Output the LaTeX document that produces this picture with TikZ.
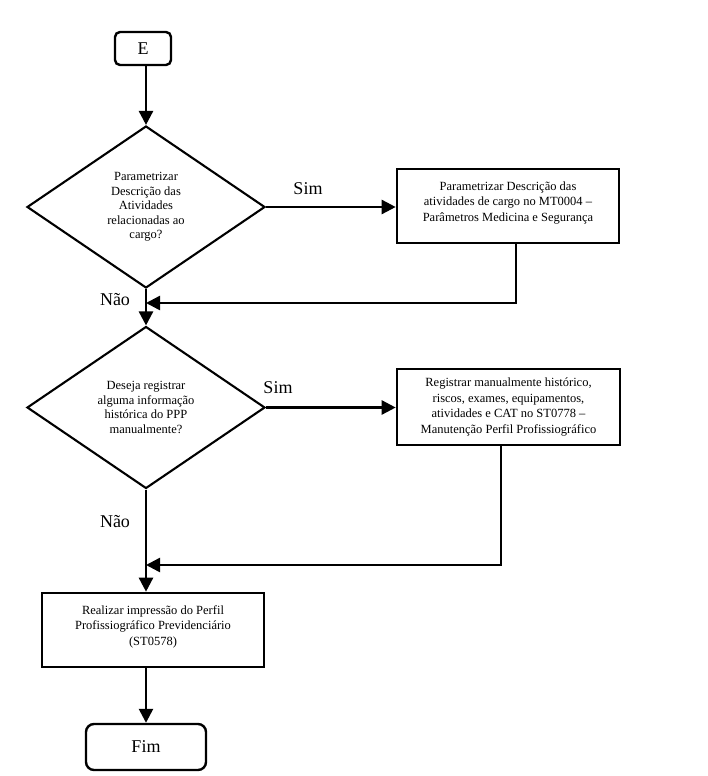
\documentclass[tikz,border=0pt]{standalone}
\usepackage{fontspec}
\setmainfont{Liberation Serif}
\usetikzlibrary{shapes.geometric,arrows.meta,calc}
\begin{document}
\begin{tikzpicture}[x=1pt,y=-1pt,
  line width=2.5pt,
  flow/.style={-{Triangle[length=14pt,width=14pt]}},
  term/.style={draw, line width=2.4pt, inner sep=0pt, font=\fontsize{18}{20}\selectfont},
  dec/.style={draw, diamond, line width=2.1pt, inner sep=0pt, minimum width=238pt, minimum height=162pt,
    align=center, font=\fontsize{12.5}{14.5}\selectfont},
  proc/.style={draw, line width=2.6pt, inner sep=0pt, align=center,
    font=\fontsize{12.5}{15.5}\selectfont},
  lbl/.style={inner sep=0pt, font=\fontsize{18}{20}\selectfont},
]
\useasboundingbox (0,0) rectangle (707,776);
\fill[white] (0,0) rectangle (707,776);

\node[term, rounded corners=5pt, minimum width=56pt, minimum height=33pt] (E) at (143,48.5) {E};
\node[dec] (d1) at (146,207) {Parametrizar\\Descrição das\\Atividades\\relacionadas ao\\cargo?};
\node[proc, minimum width=222pt, minimum height=74pt] (b1) at (508,206)
  {Parametrizar Descrição das\\atividades de cargo no MT0004 –\\Parâmetros Medicina e Segurança\\[-6pt]};
\node[dec] (d2) at (146,407.5) {Deseja registrar\\alguma informação\\histórica do PPP\\manualmente?};
\node[proc, minimum width=223pt, minimum height=76pt] (b2) at (508.5,407)
  {Registrar manualmente histórico,\\riscos, exames, equipamentos,\\atividades e CAT no ST0778 –\\Manutenção Perfil Profissiográfico};
\node[proc, minimum width=222pt, minimum height=74pt] (b3) at (153,630)
  {Realizar impressão do Perfil\\Profissiográfico Previdenciário\\(ST0578)\\[-6pt]};
\node[term, rounded corners=8pt, minimum width=120pt, minimum height=46pt] (Fim) at (146,747) {Fim};

\node[lbl] (s1) at (308,189) {Sim};
\node[lbl] (s2) at (278,388) {Sim};
\node[lbl] (n1) at (115,300) {Não};
\node[lbl] (n2) at (115,522) {Não};

\coordinate (j1) at (146,303);
\coordinate (j2) at (146,565);

\draw[flow] (E.south -| d1.north) -- (d1.north);
\draw[flow] (d1.east) -- (d1.east -| b1.west);
\draw[flow] ([xshift=8pt]b1.south) |- (j1);
\draw[flow] (d1.south) -- (d2.north);
\draw[flow] (d2.east) -- (d2.east -| b2.west);
\draw[flow] ([xshift=-7.5pt]b2.south) |- (j2);
\draw[flow] (d2.south) -- (d2.south |- b3.north);
\draw[flow] (b3.south -| Fim.north) -- (Fim.north);
\end{tikzpicture}
\end{document}
